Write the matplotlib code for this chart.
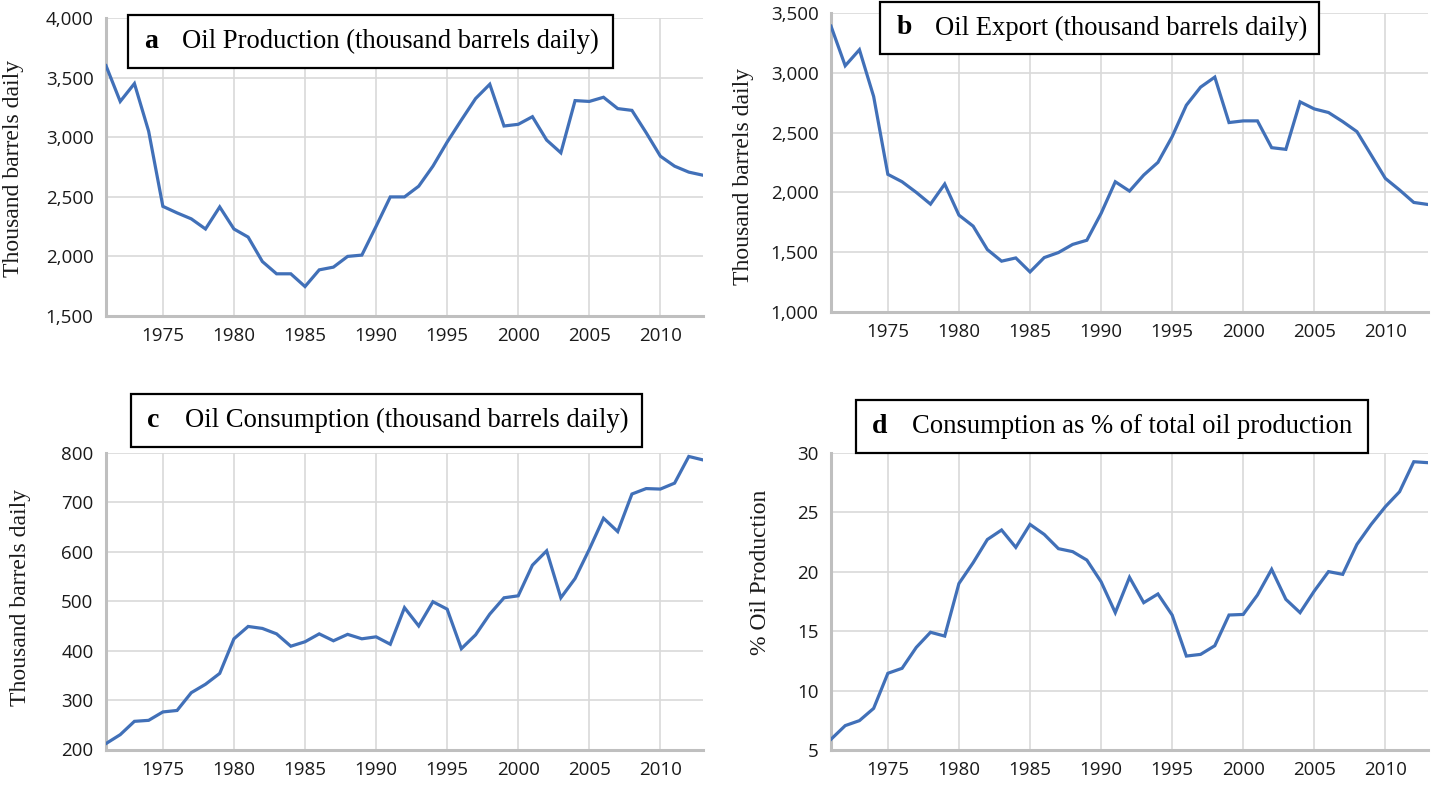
import matplotlib
matplotlib.use('Agg')
import matplotlib.pyplot as plt
from matplotlib.patches import Rectangle
from matplotlib.ticker import FuncFormatter, MultipleLocator

years = list(range(1971, 2014))

production = [3600, 3300, 3450, 3050, 2420, 2365, 2315, 2230, 2415, 2230,
              2162, 1957, 1854, 1854, 1747, 1887, 1910, 2000, 2011, 2252,
              2499, 2499, 2589, 2757, 2959, 3144, 3324, 3444, 3094, 3108,
              3172, 2976, 2869, 3307, 3300, 3335, 3240, 3225, 3038, 2841,
              2757, 2707, 2681]

export = [3390, 3059, 3193, 2802, 2151, 2089, 2000, 1902, 2070, 1810,
          1718, 1522, 1425, 1452, 1335, 1455, 1497, 1565, 1600, 1824,
          2089, 2011, 2145, 2251, 2466, 2729, 2880, 2964, 2584, 2598,
          2598, 2374, 2360, 2757, 2698, 2668, 2592, 2508, 2313, 2117,
          2020, 1916, 1899]

consumption = [212, 230, 257, 259, 276, 279, 315, 332, 354, 424,
               449, 445, 434, 409, 418, 434, 420, 433, 424, 428,
               413, 487, 450, 499, 484, 404, 432, 474, 507, 511,
               573, 602, 507, 546, 605, 668, 641, 717, 728, 727,
               739, 793, 786]

consumption_pct = [5.9, 7.05, 7.47, 8.5, 11.45, 11.87, 13.63, 14.9, 14.58, 19.0,
                   20.75, 22.7, 23.5, 22.04, 23.97, 23.13, 21.93, 21.68, 20.97, 19.15,
                   16.55, 19.52, 17.39, 18.12, 16.35, 12.9, 13.04, 13.77, 16.35, 16.4,
                   18.03, 20.19, 17.67, 16.55, 18.37, 20.0, 19.77, 22.29, 23.97, 25.46,
                   26.72, 29.24, 29.16]

xticks = [1975, 1980, 1985, 1990, 1995, 2000, 2005, 2010]

W, H = 1431, 787
fig = plt.figure(figsize=(W / 100, H / 100), dpi=100)

LINE = '#4170b8'
GRID = '#d9d9d9'
SPINE = '#bfbfbf'
TICKFONT = 'Open Sans'
SERIF = 'Liberation Serif'


def axes_px(l, t, r, b):
    return fig.add_axes([l / W, 1 - b / H, (r - l) / W, (b - t) / H])


def fig_xy(x, y):
    return x / W, 1 - y / H


panels = [
    dict(data=production, box=(106, 18, 703, 316), ylim=(1500, 4000), step=500, comma=True,
         ylabel='Thousand barrels daily', ylab_xy=(14, 168),
         tbox=(128, 15, 613, 68), letter='a', letter_x=151, text_x=182,
         title='Oil Production (thousand barrels daily)'),
    dict(data=export, box=(831, 13, 1428, 312), ylim=(1000, 3500), step=500, comma=True,
         ylabel='Thousand barrels daily', ylab_xy=(743, 176),
         tbox=(880, 2, 1319, 54), letter='b', letter_x=904, text_x=935,
         title='Oil Export (thousand barrels daily)'),
    dict(data=consumption, box=(106, 453, 703, 749.5), ylim=(200, 800), step=100, comma=False,
         ylabel='Thousand barrels daily', ylab_xy=(21, 597),
         tbox=(131, 394, 642, 447), letter='c', letter_x=153, text_x=185,
         title='Oil Consumption (thousand barrels daily)'),
    dict(data=consumption_pct, box=(831, 452.7, 1428, 750), ylim=(5, 30), step=5, comma=False,
         ylabel='% Oil Production', ylab_xy=(761, 572),
         tbox=(856, 400, 1368, 453), letter='d', letter_x=880, text_x=912,
         title='Consumption as % of total oil production'),
]

for p in panels:
    ax = axes_px(*p['box'])
    ax.plot(years, p['data'], color=LINE, lw=2.3, solid_joinstyle='miter', zorder=3)
    ax.set_xlim(years[0], years[-1])
    ax.set_ylim(*p['ylim'])
    ax.set_xticks(xticks)
    ax.yaxis.set_major_locator(MultipleLocator(p['step']))
    if p['comma']:
        ax.yaxis.set_major_formatter(FuncFormatter(lambda v, pos: f'{int(v):,}'))
    else:
        ax.yaxis.set_major_formatter(FuncFormatter(lambda v, pos: f'{int(v)}'))
    ax.grid(True, color=GRID, lw=1.2, zorder=0)
    ax.set_axisbelow(True)
    for s in ['top', 'right']:
        ax.spines[s].set_visible(False)
    for s in ['left', 'bottom']:
        ax.spines[s].set_color(SPINE)
        ax.spines[s].set_linewidth(2.2)
    ax.tick_params(axis='both', length=0, labelsize=13.5, colors='#1a1a1a')
    ax.tick_params(axis='x', pad=8)
    ax.tick_params(axis='y', pad=9)
    for lab in ax.get_xticklabels() + ax.get_yticklabels():
        lab.set_fontfamily(TICKFONT)

    lx, ly = fig_xy(*p['ylab_xy'])
    fig.text(lx, ly, p['ylabel'], rotation=90, ha='center', va='center',
             fontsize=17, fontfamily=SERIF, color='#1a1a1a')

    l, t, r, b = p['tbox']
    x0, y0 = fig_xy(l, b)
    rect = Rectangle((x0, y0), (r - l) / W, (b - t) / H, transform=fig.transFigure,
                     facecolor='white', edgecolor='black', lw=1.6, zorder=5)
    fig.add_artist(rect)
    cy = (t + b) / 2
    fx, fy = fig_xy(p['letter_x'], cy)
    fig.text(fx, fy, p['letter'], ha='center', va='center', fontsize=20,
             fontweight='bold', fontfamily=SERIF, color='black', zorder=6)
    tx, ty = fig_xy(p['text_x'], cy)
    fig.text(tx, ty, p['title'], ha='left', va='center', fontsize=19.2,
             fontfamily=SERIF, color='black', zorder=6)

fig.savefig('out.png', dpi=100)
